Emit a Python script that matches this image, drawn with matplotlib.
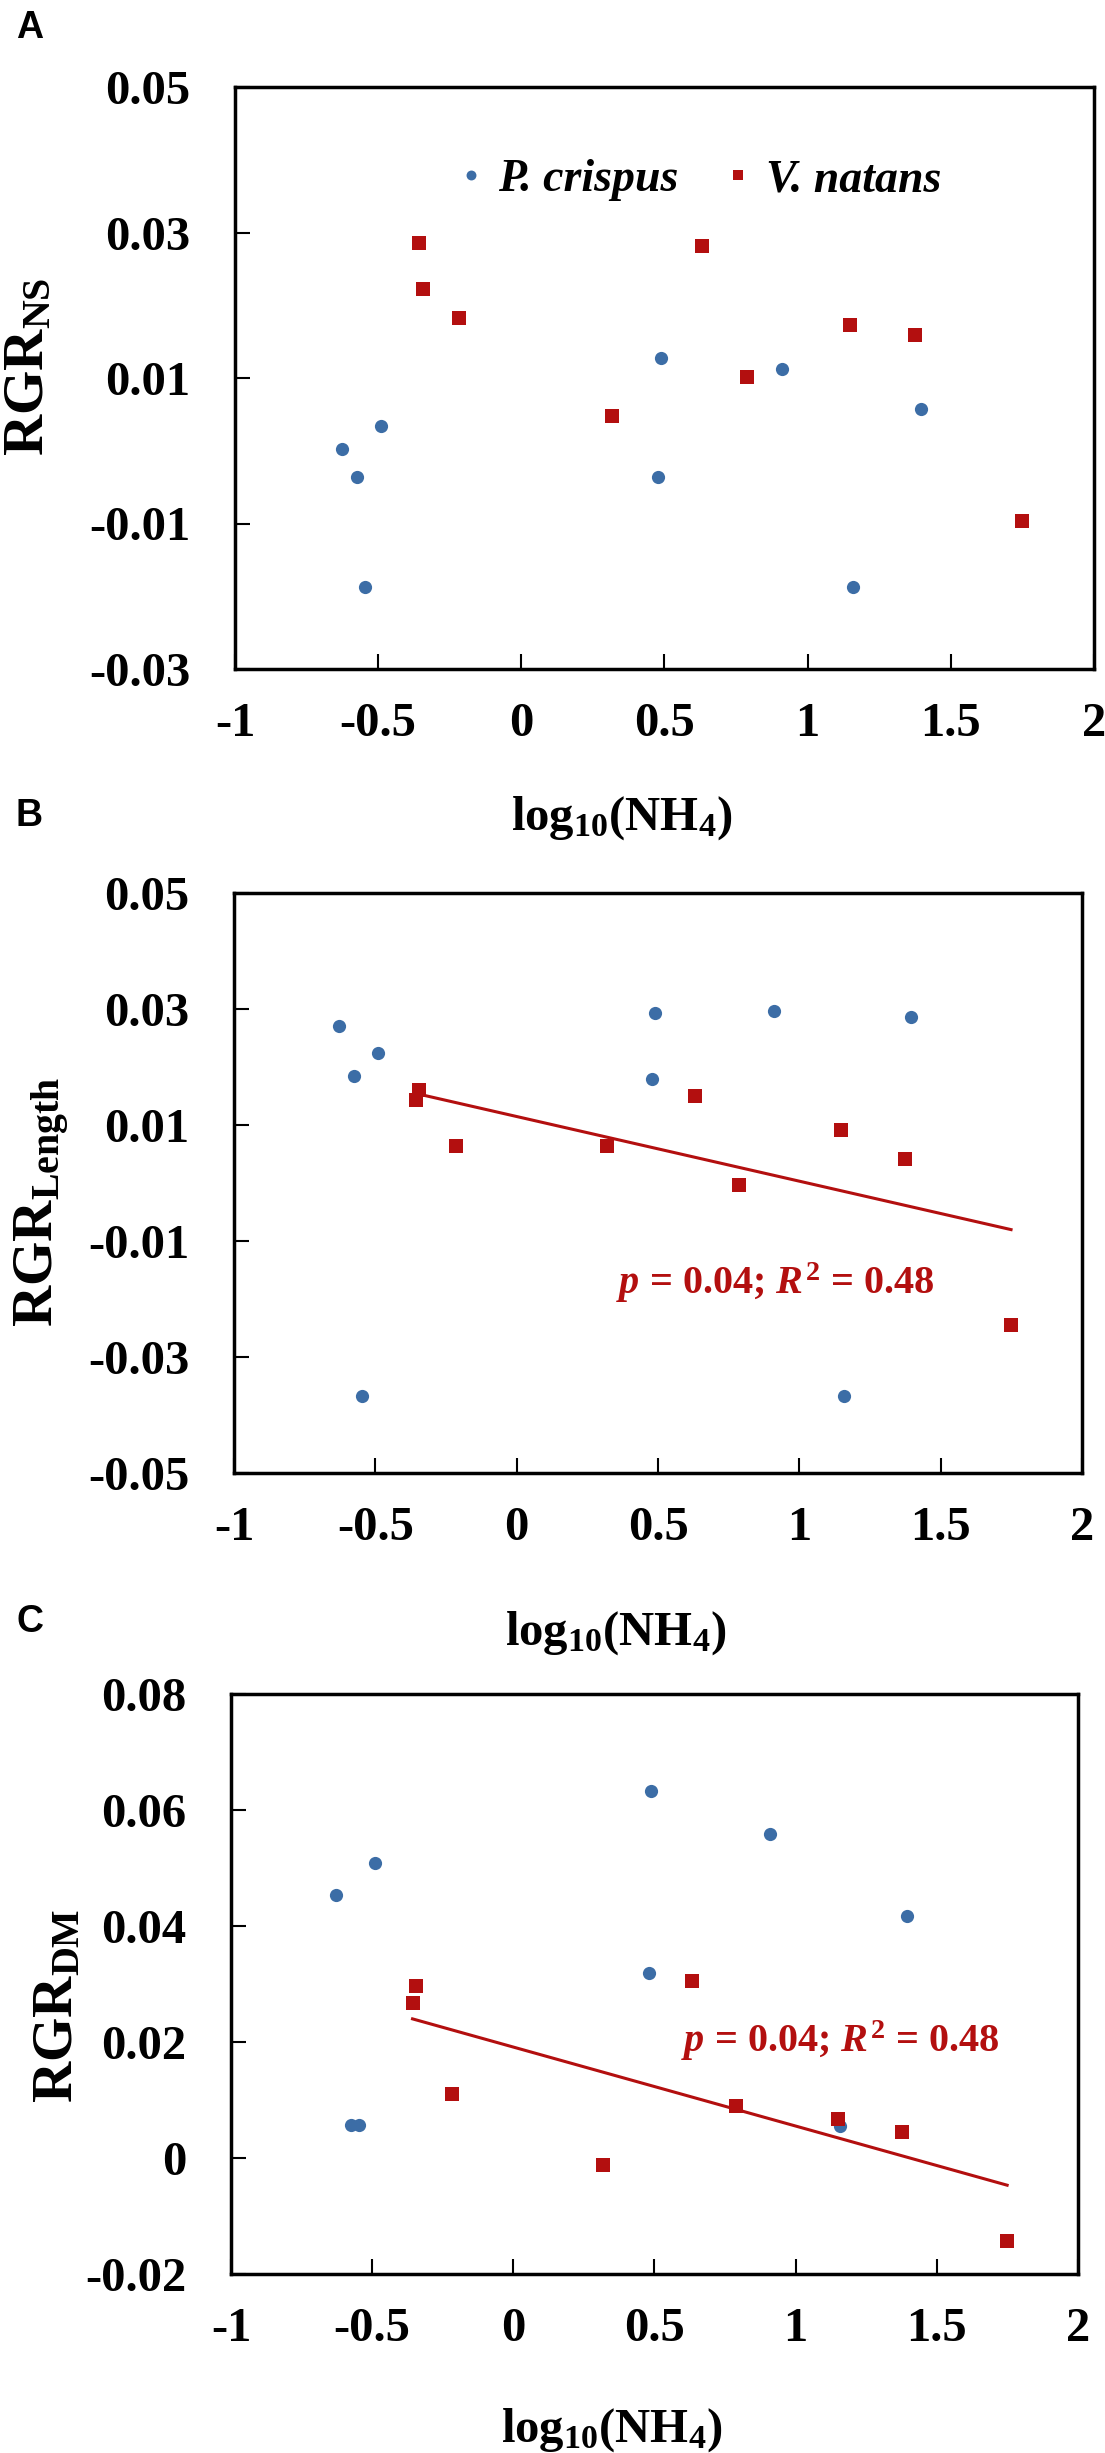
import numpy as np
import matplotlib
matplotlib.use('Agg')
import matplotlib.pyplot as plt
from matplotlib.font_manager import FontProperties

plt.rcParams['font.family'] = 'Liberation Serif'
plt.rcParams['font.weight'] = 'bold'
plt.rcParams['mathtext.fontset'] = 'custom'
plt.rcParams['mathtext.rm'] = 'Liberation Serif:bold'
plt.rcParams['mathtext.it'] = 'Liberation Serif:bold:italic'
plt.rcParams['mathtext.bf'] = 'Liberation Serif:bold'

# --- data ---
x_pc = [-0.627, -0.575, -0.489, -0.546, 0.488, 0.479, 0.909, 1.157, 1.396]
x_vn = [-0.357, -0.345, -0.216, 0.318, 0.632, 0.787, 1.149, 1.375, 1.749]

ns_pc = [0.0003, -0.0036, 0.0034, -0.0187, 0.0127, -0.0036, 0.0112, -0.0187, 0.0057]
ns_vn = [0.0285, 0.0223, 0.0182, 0.0048, 0.0282, 0.0101, 0.0173, 0.0159, -0.0097]

len_pc = [0.0271, 0.0184, 0.0224, -0.0368, 0.0293, 0.0180, 0.0297, -0.0368, 0.0286]
len_vn = [0.0143, 0.0160, 0.0063, 0.0063, 0.0150, -0.0004, 0.0092, 0.0041, -0.0244]

dm_pc = [0.0453, 0.0057, 0.0508, 0.0057, 0.0632, 0.0319, 0.0559, 0.0056, 0.0417]
dm_vn = [0.0268, 0.0296, 0.0111, -0.0012, 0.0306, 0.0089, 0.0068, 0.0045, -0.0143]

x_ticks = [-1, -0.5, 0, 0.5, 1, 1.5, 2]
x_ticklabels = ['-1', '-0.5', '0', '0.5', '1', '1.5', '2']
ns_ticks = [-0.03, -0.01, 0.01, 0.03, 0.05]
len_ticks = [-0.05, -0.03, -0.01, 0.01, 0.03, 0.05]
dm_ticks = [-0.02, 0, 0.02, 0.04, 0.06, 0.08]
dm_ticklabels = ['-0.02', '0', '0.02', '0.04', '0.06', '0.08']

stat_text = '$p$ = 0.04; $R^2$ = 0.48'

BLUE = '#3C6DA6'
RED = '#B30F0F'

W, H = 1105, 2453
fig = plt.figure(figsize=(W / 100, H / 100), dpi=100)


def px_axes(l, t, r, b):
    return fig.add_axes([l / W, 1 - b / H, (r - l) / W, (b - t) / H])


def style(ax, yticks, yticklabels, ylim, ylabel, ylab_xy, xlab_y):
    ax.set_xlim(-1, 2)
    ax.set_ylim(*ylim)
    ax.set_xticks(x_ticks)
    ax.set_xticklabels(x_ticklabels)
    ax.set_yticks(yticks)
    ax.set_yticklabels(yticklabels)
    ax.tick_params(direction='in', length=11, width=1.5, labelsize=35)
    ax.tick_params(axis='y', pad=32)
    ax.tick_params(axis='x', pad=24)
    for sp in ax.spines.values():
        sp.set_linewidth(2.5)
    ax.set_ylabel(ylabel, fontsize=41, va='baseline')
    ax.yaxis.set_label_coords(*ylab_xy)
    ax.set_xlabel(r'$\mathrm{log_{10}(NH_4)}$', fontsize=35)
    ax.xaxis.set_label_coords(0.45, xlab_y)


def scatter_pair(ax, ypc, yvn):
    ax.plot(x_pc, ypc, 'o', color=BLUE, ms=9.5, mew=0, label='P. crispus', zorder=3)
    ax.plot(x_vn, yvn, 's', color=RED, ms=10, mew=0, label='V. natans', zorder=4)


def fit_line(ax, yvn):
    k, c = np.polyfit(x_vn, yvn, 1)
    xs = np.array([min(x_vn), max(x_vn)])
    ax.plot(xs, k * xs + c, color=RED, lw=2.2, zorder=2)


# ---- A ----
axA = px_axes(235, 87, 1094, 669)
scatter_pair(axA, ns_pc, ns_vn)
style(axA, ns_ticks, [f'{t:.2f}' for t in ns_ticks], (-0.03, 0.05),
      r'$\mathrm{RGR_{NS}}$', (-0.2235, 0.52), -0.215)
leg_font = FontProperties(family='Liberation Serif', weight='bold', style='italic', size=33)
axA.legend(loc='center', bbox_to_anchor=(0.54, 0.84), ncol=2, frameon=False,
           prop=leg_font, markerscale=0.75, handlelength=0.6, handletextpad=0.3,
           columnspacing=1.0)

# ---- B ----
axB = px_axes(234, 893, 1082, 1473)
scatter_pair(axB, len_pc, len_vn)
fit_line(axB, len_vn)
style(axB, len_ticks, [f'{t:.2f}' for t in len_ticks], (-0.05, 0.05),
      r'$\mathrm{RGR_{Length}}$', (-0.2134, 0.467), -0.235)
axB.text(0.35, -0.0172, stat_text, color=RED, fontsize=29, va='center', ha='left')

# ---- C ----
axC = px_axes(231, 1694, 1078, 2274)
scatter_pair(axC, dm_pc, dm_vn)
fit_line(axC, dm_vn)
style(axC, dm_ticks, dm_ticklabels, (-0.02, 0.08),
      r'$\mathrm{RGR_{DM}}$', (-0.1877, 0.462), -0.228)
axC.text(0.594, 0.0203, stat_text, color=RED, fontsize=29, va='center', ha='left')

# panel letters
for lab, ytop in [('A', 10), ('B', 798), ('C', 1604)]:
    fig.text(16 / W, 1 - ytop / H, lab, family='Liberation Sans', weight='bold',
             fontsize=27, va='top', ha='left')

fig.savefig('out.png', dpi=100, facecolor='white')
